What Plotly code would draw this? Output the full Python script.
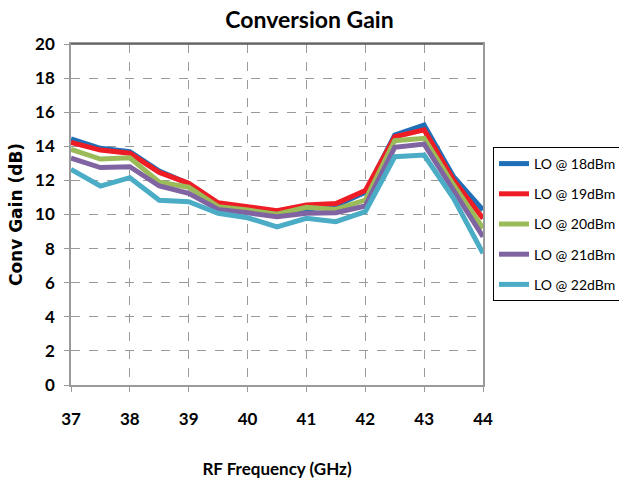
import plotly.graph_objects as go

freq = [37, 37.5, 38, 38.5, 39, 39.5, 40, 40.5, 41, 41.5, 42, 42.5, 43, 43.5, 44]
lo_18 = [14.43, 13.88, 13.68, 12.55, 11.80, 10.62, 10.40, 10.10, 10.30, 10.52, 11.30, 14.66, 15.25, 12.22, 10.26]
lo_19 = [14.23, 13.78, 13.59, 12.47, 11.83, 10.69, 10.46, 10.22, 10.56, 10.65, 11.40, 14.56, 14.96, 12.02, 9.77]
lo_20 = [13.82, 13.25, 13.33, 11.89, 11.60, 10.46, 10.26, 10.02, 10.42, 10.30, 10.85, 14.33, 14.47, 11.73, 9.19]
lo_21 = [13.30, 12.75, 12.80, 11.67, 11.24, 10.30, 10.10, 9.87, 10.07, 10.10, 10.50, 13.94, 14.13, 11.44, 8.70]
lo_22 = [12.65, 11.67, 12.16, 10.83, 10.75, 10.07, 9.81, 9.28, 9.78, 9.58, 10.17, 13.39, 13.49, 10.95, 7.72]

series_names = ["LO @ 18dBm", "LO @ 19dBm", "LO @ 20dBm", "LO @ 21dBm", "LO @ 22dBm"]
series_vals = [lo_18, lo_19, lo_20, lo_21, lo_22]
colors = ["#1f6fb8", "#ee1c25", "#9bbb59", "#8064a2", "#4bacc6"]

x_ticks = [37, 38, 39, 40, 41, 42, 43, 44]
y_ticks = [0, 2, 4, 6, 8, 10, 12, 14, 16, 18, 20]

FONT = "Lato, sans-serif"

L, R, T, B = 71, 136, 44, 100
W, H = 619, 485
PW, PH = W - L - R, H - T - B

fig = go.Figure()
for i, (name, vals, col) in enumerate(zip(series_names, series_vals, colors)):
    fig.add_trace(go.Scatter(
        x=freq, y=vals, mode="lines", name=name,
        legendgroup=f"g{i}",
        line=dict(color=col, width=5),
    ))

fig.update_layout(
    width=W, height=H,
    margin=dict(l=L, r=R, t=T, b=B, autoexpand=False),
    paper_bgcolor="white", plot_bgcolor="white",
    title=dict(text="<b>Conversion Gain</b>", x=0.5, xanchor="center",
               y=1 - 20 / H, yanchor="middle",
               font=dict(family=FONT, size=23, color="black")),
    font=dict(family=FONT, color="black"),
    showlegend=True,
    legend=dict(
        x=(493 - L) / PW, y=1 - (147 - T) / PH,
        xanchor="left", yanchor="top",
        bordercolor="black", borderwidth=1, bgcolor="white",
        font=dict(family=FONT, size=14, color="black"),
        tracegroupgap=9, traceorder="grouped",
        itemwidth=30,
    ),
)

fig.update_xaxes(
    range=[37, 44], tickvals=x_ticks, ticktext=[f"<b>{t}</b>" for t in x_ticks],
    showgrid=True, gridcolor="#9a9a9a", griddash="dash", gridwidth=1,
    showline=True, linecolor="#9a9a9a", linewidth=1.5, mirror=True,
    ticks="outside", ticklen=5, tickcolor="#9a9a9a",
    ticklabelstandoff=13, automargin=False,
    tickfont=dict(family=FONT, size=17, color="black"),
    zeroline=False,
    title=dict(text="<b>RF Frequency (GHz)</b>", standoff=35,
               font=dict(family=FONT, size=17, color="black")),
)
fig.update_yaxes(
    range=[0, 20], tickvals=y_ticks, ticktext=[f"<b>{t}</b>" for t in y_ticks],
    showgrid=True, gridcolor="#9a9a9a", griddash="dash", gridwidth=1,
    showline=True, linecolor="#9a9a9a", linewidth=1.5, mirror=True,
    ticks="outside", ticklen=5, tickcolor="#9a9a9a",
    ticklabelstandoff=6, automargin=False,
    tickfont=dict(family=FONT, size=17, color="black"),
    zeroline=False,
    title=dict(text="<b>Conv Gain (dB)</b>", standoff=8,
               font=dict(family="DejaVu Sans, sans-serif", size=17, color="black")),
)
fig.add_shape(type="line", xref="paper", yref="paper", x0=0, x1=1, y0=1, y1=1,
              line=dict(color="#555555", width=1.5))

fig.write_html("out.html", config={"displayModeBar": False},
               post_script="document.body.style.margin='0';")
